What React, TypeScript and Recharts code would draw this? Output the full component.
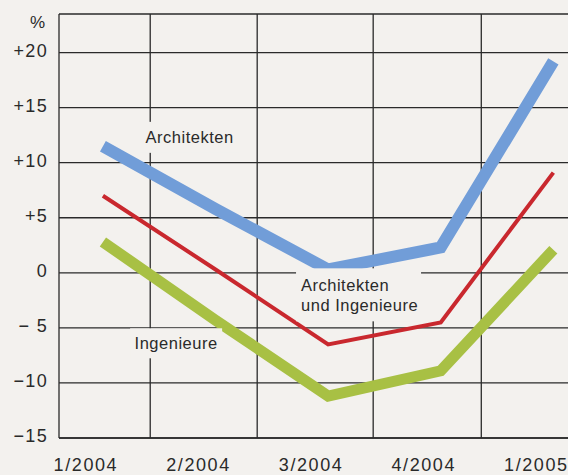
import React from "react";
import {
  LineChart,
  Line,
  XAxis,
  YAxis,
  CartesianGrid,
  ReferenceLine,
  ReferenceDot,
} from "recharts";

const quarters = ["1/2004", "2/2004", "3/2004", "4/2004", "1/2005"];
const architekten = [11.5, 5.8, 0.3, 2.3, 19.2];
const beide = [7.0, 0.3, -6.5, -4.5, 9.1];
const ingenieure = [2.8, -4.3, -11.2, -8.9, 2.1];
const yTicks = [-15, -10, -5, 0, 5, 10, 15, 20];
const yTickLabels = ["−15", "−10", "− 5", "0", "+5", "+10", "+15", "+20"];

// quarter boundaries for the vertical grid (x axis units)
const gridX = [0.42, 1.37, 2.4, 3.36];
const Y_TOP = 23.5;

const data = quarters.map((q, i) => ({
  idx: i,
  q,
  architekten: architekten[i],
  beide: beide[i],
  ingenieure: ingenieure[i],
}));

const paper = "#f3f1ee";
const ink = "#2a2a2a";
const font = "'Liberation Sans', Arial, sans-serif";

function YTick(props: any) {
  const { x, y, payload } = props;
  if (payload.value === Y_TOP) {
    return (
      <text x={x - 2} y={y + 14} textAnchor="end"
        fontFamily={font} fontSize={17} fill={ink}>
        %
      </text>
    );
  }
  const i = yTicks.indexOf(payload.value);
  return (
    <text x={x + 1} y={y + 4} textAnchor="end"
      fontFamily={font} fontSize={18} letterSpacing={1.3} fill={ink}>
      {yTickLabels[i]}
    </text>
  );
}

function XTick(props: any) {
  const { x, y, payload } = props;
  return (
    <text x={x - 17} y={y + 11} textAnchor="middle"
      fontFamily={font} fontSize={18} letterSpacing={1.6} fill={ink}>
      {quarters[payload.value]}
    </text>
  );
}

function boxLabel(lines: string[], w: number, h: number, anchor: "middle" | "start") {
  return (p: any) => {
    const { cx, cy } = p;
    const lh = 20;
    const startY = cy - ((lines.length - 1) * lh) / 2;
    return (
      <g>
        <rect x={cx - w / 2} y={cy - h / 2} width={w} height={h} fill={paper} />
        {lines.map((t, i) => (
          <text key={i} x={anchor === "middle" ? cx : cx - w / 2 + 5} y={startY + i * lh}
            textAnchor={anchor} dominantBaseline="central"
            fontFamily={font} fontSize={16.5} letterSpacing={0.5} fill={ink}>
            {t}
          </text>
        ))}
      </g>
    );
  };
}

export default function App() {
  return (
    <div style={{ position: "absolute", left: 0, top: 0, width: 568, height: 475, background: paper }}>
      <LineChart width={568} height={475} data={data}
        margin={{ top: 14, right: 0, bottom: 0, left: 0 }}>
        <CartesianGrid vertical={false} stroke={ink} strokeWidth={1.3} />
        <XAxis dataKey="idx" type="number" domain={[-0.39, 4.13]} ticks={[0, 1, 2, 3, 4]}
          interval={0} height={37} tickSize={0} tickMargin={22} tick={<XTick />}
          axisLine={{ stroke: ink, strokeWidth: 1.3 }} tickLine={false} />
        <YAxis type="number" domain={[-15, Y_TOP]} ticks={[...yTicks, Y_TOP]} interval={0}
          width={59} tickSize={0} tickMargin={12} tick={<YTick />}
          axisLine={{ stroke: ink, strokeWidth: 1.3 }} tickLine={false} />
        {gridX.map((v) => (
          <ReferenceLine key={v} x={v} stroke={ink} strokeWidth={1.3} />
        ))}
        <Line type="linear" dataKey="architekten" stroke="#719dd8" strokeWidth={12}
          strokeLinejoin="miter" dot={false} activeDot={false} isAnimationActive={false} />
        <Line type="linear" dataKey="beide" stroke="#c9282e" strokeWidth={4}
          strokeLinejoin="miter" dot={false} activeDot={false} isAnimationActive={false} />
        <Line type="linear" dataKey="ingenieure" stroke="#a8c044" strokeWidth={11}
          strokeLinejoin="miter" dot={false} activeDot={false} isAnimationActive={false} />
        <ReferenceDot x={0.77} y={12.3} r={1} shape={boxLabel(["Architekten"], 100, 31, "middle")} />
        <ReferenceDot x={2.27} y={-2.0} r={1}
          shape={boxLabel(["Architekten", "und Ingenieure"], 125, 53, "start")} />
        <ReferenceDot x={0.65} y={-6.4} r={1} shape={boxLabel(["Ingenieure"], 92, 30, "middle")} />
      </LineChart>
    </div>
  );
}
